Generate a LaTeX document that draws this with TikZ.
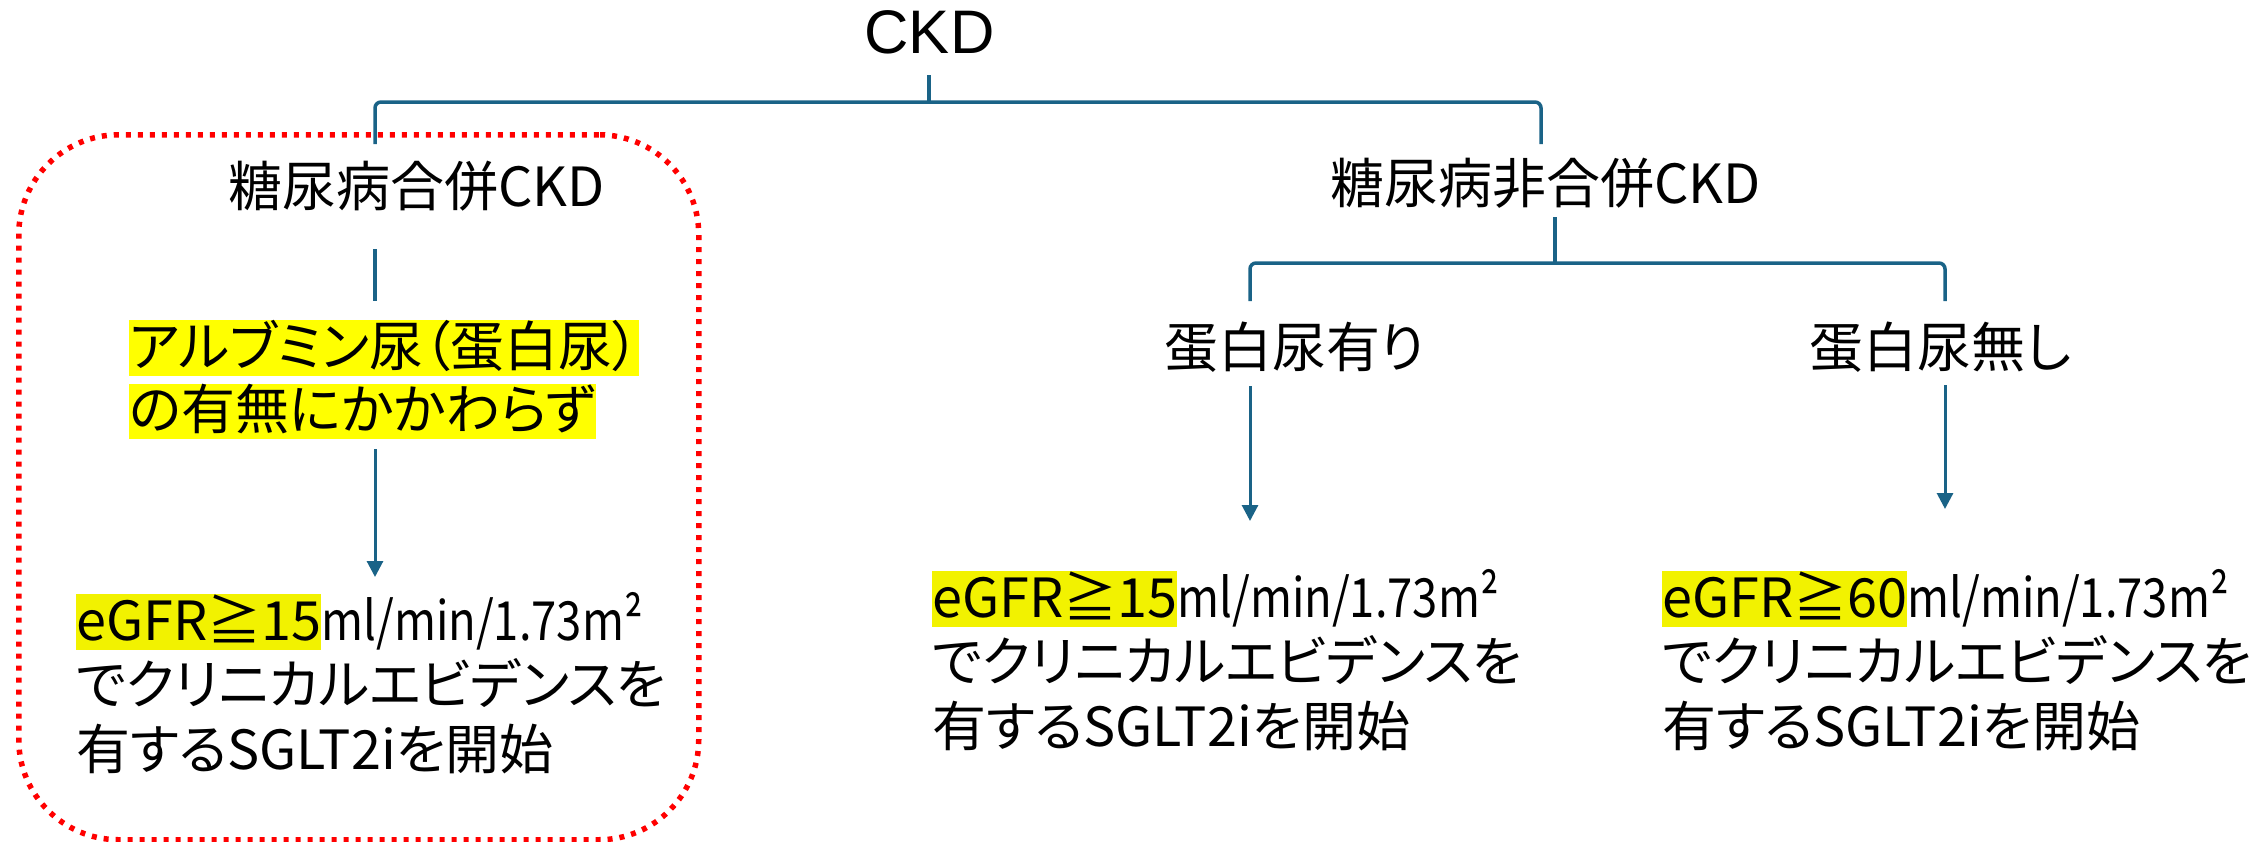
\documentclass[tikz,border=0pt]{standalone}
\usepackage{fontspec}
\setmainfont{Noto Sans CJK JP}[RawFeature=+palt]
\newfontfamily\arialf{Liberation Sans}
\newfontfamily\unitf{Noto Sans CJK JP}[FakeStretch=0.84]
\usetikzlibrary{arrows.meta}
\definecolor{lc}{RGB}{26,99,135}
\definecolor{hly}{RGB}{255,255,0}
\definecolor{hlg}{RGB}{242,242,0}
\definecolor{boxred}{RGB}{255,0,0}
\newcommand\hlbox[2]{{\setlength{\fboxsep}{0pt}\colorbox{#1}{\rule[-10pt]{0pt}{54pt}#2}}}
\newcommand\units{{\unitf ml/min/1.73m²}}
\tikzset{
  txt/.style={inner sep=0pt, anchor=base west, font=\fontsize{54}{65}\selectfont},
  conn/.style={draw=lc, line width=3.5pt, rounded corners=6pt},
  arr/.style={draw=lc, line width=3pt, -{Triangle[width=16pt,length=16pt]}},
  redbox/.style={draw=boxred, line width=5.5pt, dash pattern=on 5pt off 7pt, rounded corners=100pt}
}
\begin{document}
\begin{tikzpicture}[x=1pt,y=-1pt]
\useasboundingbox (0,0) rectangle (2261,841);
% red dotted frame
\node[redbox, minimum width=680pt, minimum height=705pt, anchor=north west, inner sep=0pt] (frame) at (16,132) {};
% texts
\node[inner sep=0pt, anchor=base, font=\arialf\fontsize{61.5}{70}\selectfont] (ckd) at (929.5,53) {CKD};
\node[txt] (dm) at (228,206) {糖尿病合併CKD};
\node[txt] (ndm) at (1330,203) {糖尿病非合併CKD};
\node[txt] (prot) at (1164,367) {蛋白尿有り};
\node[txt] (noprot) at (1809,367) {蛋白尿無し};
\node[txt] (alba) at (129,366) {\hlbox{hly}{アルブミン尿（蛋白尿）}};
\node[txt] (albb) at (129,429) {\hlbox{hly}{の有無にかかわらず}};
\node[txt] (resAa) at (76,640) {\hlbox{hlg}{eGFR≧15}\units};
\node[txt] (resAb) at (76,704) {でクリニカルエビデンスを};
\node[txt] (resAc) at (76,769) {有するSGLT2iを開始};
\node[txt] (resBa) at (932,617) {\hlbox{hlg}{eGFR≧15}\units};
\node[txt] (resBb) at (932,681) {でクリニカルエビデンスを};
\node[txt] (resBc) at (932,746) {有するSGLT2iを開始};
\node[txt] (resCa) at (1662,617) {\hlbox{hlg}{eGFR≧60}\units};
\node[txt] (resCb) at (1662,681) {でクリニカルエビデンスを};
\node[txt] (resCc) at (1662,746) {有するSGLT2iを開始};
% connector coordinates
\coordinate (ckdS) at (929,75);
\coordinate (topBar) at (929,102);
\coordinate (dmTop) at (375,144);
\coordinate (ndmTop) at (1541,144);
\coordinate (dmS) at (375,249);
\coordinate (albN) at (375,301);
\coordinate (albS) at (375,449);
\coordinate (resAN) at (375,577);
\coordinate (ndmS) at (1555,217);
\coordinate (midBar) at (1555,263);
\coordinate (protTop) at (1250,301);
\coordinate (noprotTop) at (1945,301);
\coordinate (protS) at (1250,386);
\coordinate (resBN) at (1250,521);
\coordinate (noprotS) at (1945,385);
\coordinate (resCN) at (1945,509);
% connectors
\draw[conn] (ckdS) -- (topBar);
\draw[conn] (dmTop) -- (dmTop |- topBar) -- (ndmTop |- topBar) -- (ndmTop);
\draw[conn] (dmS) -- (albN);
\draw[arr] (albS) -- (resAN);
\draw[conn] (ndmS) -- (midBar);
\draw[conn] (protTop) -- (protTop |- midBar) -- (noprotTop |- midBar) -- (noprotTop);
\draw[arr] (protS) -- (resBN);
\draw[arr] (noprotS) -- (resCN);
\end{tikzpicture}
\end{document}
